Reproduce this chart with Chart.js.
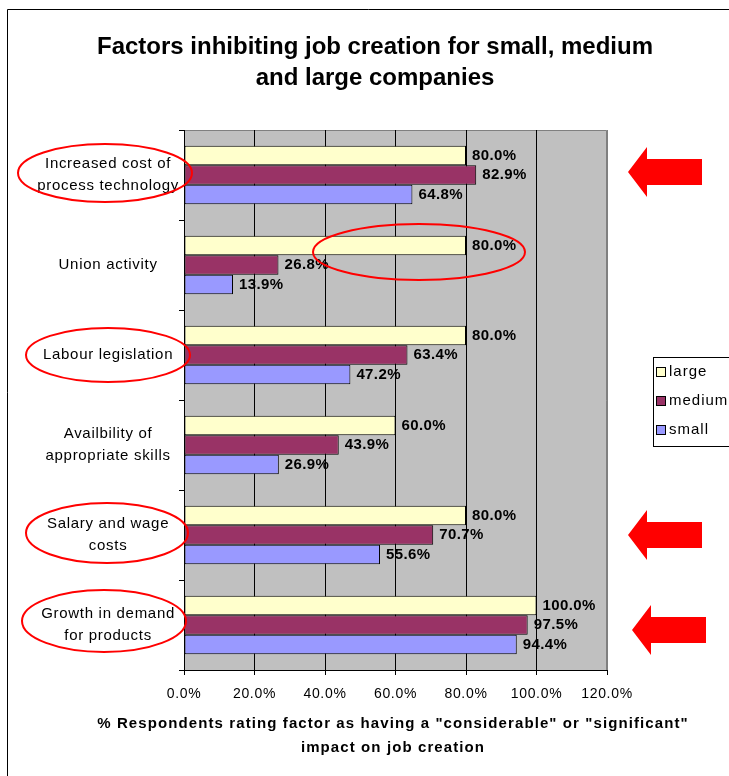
<!DOCTYPE html>
<html>
<head>
<meta charset="utf-8">
<title>Factors inhibiting job creation</title>
<script src="https://cdn.jsdelivr.net/npm/chart.js@4.4.0/dist/chart.umd.min.js"></script>
<style>
  html, body { margin: 0; padding: 0; background: #fff; }
  #wrap { width: 729px; height: 776px; }
</style>
</head>
<body>
<div id="wrap"><canvas id="factorsChart" width="729" height="776"></canvas></div>
<script>
const FACTORS = [
    ['Increased cost of', 'process technology'],
    ['Union activity'],
    ['Labour legislation'],
    ['Availbility of', 'appropriate skills'],
    ['Salary and wage', 'costs'],
    ['Growth in demand', 'for products']
];
const SERIES = ['large', 'medium', 'small'];
const LARGE  = [80.0, 80.0, 80.0, 60.0, 80.0, 100.0];
const MEDIUM = [82.9, 26.8, 63.4, 43.9, 70.7, 97.5];
const SMALL  = [64.8, 13.9, 47.2, 26.9, 55.6, 94.4];
const X_MAX  = 120;
const X_STEP = 20;

const TITLE = ['Factors inhibiting job creation for small, medium', 'and large companies'];
const X_TITLE = ['% Respondents rating factor as having a "considerable" or "significant"', 'impact on job creation'];

const FONT = '"Liberation Sans", Arial, sans-serif';
const RED = '#FF0000';

// callouts on top of the chart
const ELLIPSES = [
    [105, 173, 87, 29],
    [419, 252, 106, 28],
    [108, 355, 82, 27],
    [107, 533, 81, 30],
    [104, 621, 82, 31]
];
const ARROWS = [
    [628, 172],
    [628, 535],
    [632, 630]
];

// slightly looser text, set before layout so tick measuring sees it too
const spacing = {
    id: 'spacing',
    beforeUpdate(chart) { chart.ctx.letterSpacing = '0.7px'; },
    beforeDraw(chart) { chart.ctx.letterSpacing = '0.7px'; }
};

const backdrop = {
    id: 'backdrop',
    beforeDraw(chart) {
        const { ctx, chartArea: a } = chart;
        ctx.save();
        ctx.fillStyle = '#fff';
        ctx.fillRect(0, 0, chart.width, chart.height);
        // outer frame
        ctx.strokeStyle = '#000';
        ctx.lineWidth = 1;
        ctx.beginPath();
        ctx.moveTo(7.5, chart.height);
        ctx.lineTo(7.5, 9.5);
        ctx.lineTo(chart.width, 9.5);
        ctx.stroke();
        // plot area
        ctx.fillStyle = '#C0C0C0';
        ctx.fillRect(a.left, a.top, a.right - a.left, a.bottom - a.top);
        ctx.strokeStyle = '#808080';
        ctx.beginPath();
        ctx.moveTo(a.left, a.top + 0.5);
        ctx.lineTo(a.right - 0.5, a.top + 0.5);
        ctx.lineTo(a.right - 0.5, a.bottom);
        ctx.stroke();
        ctx.restore();
    }
};

const valueLabels = {
    id: 'valueLabels',
    afterDatasetsDraw(chart) {
        const ctx = chart.ctx;
        ctx.save();
        ctx.letterSpacing = '0.4px';
        ctx.font = 'bold 15px ' + FONT;
        ctx.fillStyle = '#000';
        ctx.textBaseline = 'middle';
        ctx.textAlign = 'left';
        chart.data.datasets.forEach((ds, i) => {
            chart.getDatasetMeta(i).data.forEach((bar, j) => {
                ctx.fillText(ds.data[j].toFixed(1) + '%', bar.x + 6, bar.y);
            });
        });
        ctx.restore();
    }
};

const overlay = {
    id: 'overlay',
    afterDraw(chart) {
        const ctx = chart.ctx;
        ctx.save();

        // title
        ctx.letterSpacing = '0px';
        ctx.fillStyle = '#000';
        ctx.font = 'bold 24px ' + FONT;
        ctx.textAlign = 'center';
        ctx.textBaseline = 'middle';
        TITLE.forEach((t, i) => ctx.fillText(t, 375, 47 + i * 31));

        // axis title
        ctx.letterSpacing = '1.1px';
        ctx.font = 'bold 15px ' + FONT;
        X_TITLE.forEach((t, i) => ctx.fillText(t, 393, 724 + i * 24));

        // legend
        const lx = 653.5, ly = 357.5;
        ctx.fillStyle = '#fff';
        ctx.fillRect(lx, ly, 100, 89);
        ctx.strokeStyle = '#000';
        ctx.lineWidth = 1;
        ctx.strokeRect(lx, ly, 100, 89);
        ctx.letterSpacing = '1px';
        ctx.font = '15px ' + FONT;
        ctx.textAlign = 'left';
        chart.data.datasets.forEach((ds, i) => {
            const y = 372 + i * 29;
            ctx.fillStyle = ds.backgroundColor;
            ctx.fillRect(656.5, y - 4.5, 9, 9);
            ctx.strokeRect(656.5, y - 4.5, 9, 9);
            ctx.fillStyle = '#000';
            ctx.fillText(ds.label, 669, y);
        });

        // ellipses
        ctx.strokeStyle = RED;
        ctx.lineWidth = 2;
        ELLIPSES.forEach(([cx, cy, rx, ry]) => {
            ctx.beginPath();
            ctx.ellipse(cx, cy, rx, ry, 0, 0, Math.PI * 2);
            ctx.stroke();
        });

        // block arrows pointing left
        ctx.fillStyle = RED;
        ARROWS.forEach(([tx, ty]) => {
            ctx.beginPath();
            ctx.moveTo(tx, ty);
            ctx.lineTo(tx + 19, ty - 25);
            ctx.lineTo(tx + 19, ty - 13);
            ctx.lineTo(tx + 74, ty - 13);
            ctx.lineTo(tx + 74, ty + 13);
            ctx.lineTo(tx + 19, ty + 13);
            ctx.lineTo(tx + 19, ty + 25);
            ctx.closePath();
            ctx.fill();
        });
        ctx.restore();
    }
};

new Chart(document.getElementById('factorsChart'), {
    type: 'bar',
    data: {
        labels: FACTORS,
        datasets: [
            { label: SERIES[0], data: LARGE,  backgroundColor: '#FFFFCC' },
            { label: SERIES[1], data: MEDIUM, backgroundColor: '#993366' },
            { label: SERIES[2], data: SMALL,  backgroundColor: '#9999FF' }
        ].map(d => Object.assign(d, {
            borderColor: '#000',
            borderWidth: 1,
            borderSkipped: false,
            categoryPercentage: 0.65,
            barPercentage: 1.0
        }))
    },
    options: {
        indexAxis: 'y',
        responsive: false,
        animation: false,
        events: [],
        layout: { padding: { top: 130, right: 122, bottom: 0, left: 0 } },
        plugins: { legend: { display: false }, title: { display: false }, tooltip: { enabled: false } },
        scales: {
            x: {
                min: 0,
                max: X_MAX,
                afterFit: s => { s.height = 106; },
                ticks: {
                    stepSize: X_STEP,
                    color: '#000',
                    font: { family: FONT, size: 14 },
                    padding: 11,
                    callback: v => v.toFixed(1) + '%'
                },
                grid: {
                    color: c => (c.tick && c.tick.value === X_MAX) ? '#808080' : '#000',
                    tickColor: '#000',
                    tickLength: 5,
                    lineWidth: 1
                },
                border: { display: true, color: '#000' }
            },
            y: {
                afterFit: s => { s.width = 184; },
                ticks: {
                    color: '#000',
                    font: { family: FONT, size: 15, lineHeight: 1.45 },
                    crossAlign: 'center',
                    padding: 0
                },
                grid: {
                    drawOnChartArea: false,
                    drawTicks: true,
                    tickLength: 5,
                    color: '#000',
                    offset: true
                },
                border: { display: true, color: '#000' }
            }
        }
    },
    plugins: [spacing, backdrop, valueLabels, overlay]
});
</script>
</body>
</html>
